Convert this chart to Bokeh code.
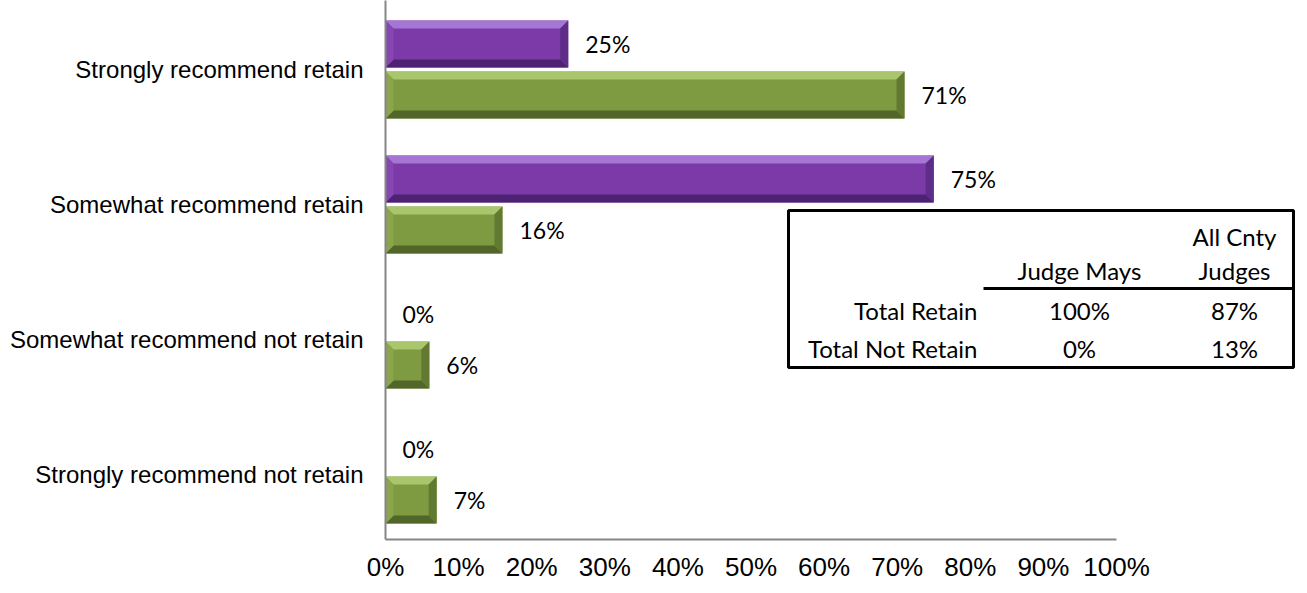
from bokeh.plotting import figure
from bokeh.models import FixedTicker, Range1d, ColumnDataSource
from bokeh.core.properties import value
from bokeh.embed import file_html
from bokeh.resources import INLINE

# ---------------- data ----------------
categories = ["Strongly recommend retain", "Somewhat recommend retain",
              "Somewhat recommend not retain", "Strongly recommend not retain"]
judge_mays = [25, 75, 0, 0]
all_cnty = [71, 16, 6, 7]
x_ticks = [0, 10, 20, 30, 40, 50, 60, 70, 80, 90, 100]
x_tick_labels = ["0%", "10%", "20%", "30%", "40%", "50%", "60%", "70%", "80%", "90%", "100%"]
table_rows = ["Total Retain", "Total Not Retain"]
table_header_top = ["", "All Cnty"]
table_header_bottom = ["Judge Mays", "Judges"]
table_mays = ["100%", "0%"]
table_all = ["87%", "13%"]

# ---------------- layout ----------------
W, H = 1307, 593
ML, MR, MT, MB = 385, 4, 0, 54
PX_PER_PCT = 7.31
PX_PER_CAT = 135.0
x_end = (W - ML - MR) / PX_PER_PCT
y_top = 3 + 69 / PX_PER_CAT
y_bot = y_top - (H - MT - MB) / PX_PER_CAT


def sx(px):
    return (px - ML) / PX_PER_PCT


def sy(py):
    return y_top - (py - MT) / PX_PER_CAT


p = figure(width=W, height=H, output_backend="svg", toolbar_location=None,
           x_range=Range1d(0, x_end), y_range=Range1d(y_bot, y_top),
           min_border_left=ML, min_border_right=MR, min_border_top=MT,
           min_border_bottom=MB)
p.outline_line_color = None
p.grid.visible = False
p.background_fill_color = "white"

n = len(categories)
ypos = [n - 1 - i for i in range(n)]
off = 0.189
half = 0.174
bx = 8 / PX_PER_PCT
by = 8 / PX_PER_CAT

series = [
    (judge_mays, off, "#7B3AA8", "#A676D4", "#4E2272", "#5E2D88", "#8746B4"),
    (all_cnty, -off, "#7F9B42", "#A9C66C", "#52662A", "#627932", "#8AA64D"),
]

for vals, o, main, light, dark, rdark, left in series:
    yc = [y + o for y in ypos]
    nz = [(v, y) for v, y in zip(vals, yc) if v > 0]
    src = ColumnDataSource(dict(y=[y for v, y in nz], right=[v for v, y in nz]))
    p.hbar(y="y", left=0, right="right", height=2 * half, source=src,
           fill_color=main, line_color=None)
    tops, bots, rights, lefts = ([], []), ([], []), ([], []), ([], [])
    for v, y in nz:
        x0, x1, yt, yb = 0, v, y + half, y - half
        tops[0].append([x0, x1, x1 - bx, x0 + bx]); tops[1].append([yt, yt, yt - by, yt - by])
        bots[0].append([x0, x1, x1 - bx, x0 + bx]); bots[1].append([yb, yb, yb + by, yb + by])
        rights[0].append([x1, x1, x1 - bx, x1 - bx]); rights[1].append([yt, yb, yb + by, yt - by])
        lefts[0].append([x0, x0, x0 + bx, x0 + bx]); lefts[1].append([yt, yb, yb + by, yt - by])
    p.patches(xs=tops[0], ys=tops[1], fill_color=light, line_color=None)
    p.patches(xs=bots[0], ys=bots[1], fill_color=dark, line_color=None)
    p.patches(xs=rights[0], ys=rights[1], fill_color=rdark, line_color=None)
    p.patches(xs=lefts[0], ys=lefts[1], fill_color=left, line_color=None)
    lsrc = ColumnDataSource(dict(x=vals, y=yc, t=[f"{v}%" for v in vals]))
    p.text(x="x", y="y", text="t", source=lsrc, x_offset=17,
           text_align="left", text_baseline="middle", text_color="black",
           text_font=value("Lato"), text_font_size="23px")

# axes
p.xaxis.ticker = FixedTicker(ticks=x_ticks)
p.xaxis.major_label_overrides = {t: l for t, l in zip(x_ticks, x_tick_labels)}
p.xaxis.bounds = (0, 100)
p.yaxis.ticker = FixedTicker(ticks=ypos)
p.yaxis.major_label_overrides = {y: c for y, c in zip(ypos, categories)}
for ax in (p.xaxis, p.yaxis):
    ax.axis_line_color = "#868686"
    ax.axis_line_width = 2
    ax.major_tick_line_color = None
    ax.minor_tick_line_color = None
    ax.major_tick_out = 0
    ax.major_tick_in = 0
    ax.major_label_text_color = "black"
    ax.major_label_text_font = "Liberation Sans"
p.xaxis.major_label_text_font_size = "26px"
p.xaxis.major_label_standoff = 12
p.yaxis.major_label_text_font_size = "24px"
p.yaxis.major_label_standoff = 22

# inset table
p.quad(left=[sx(788)], right=[sx(1293)], top=[sy(210)], bottom=[sy(367)],
       fill_color="white", line_color="black", line_width=3)
p.segment(x0=[sx(983)], x1=[sx(1293)], y0=[sy(288)], y1=[sy(288)],
          line_color="black", line_width=3)

col_x = [sx(1079), sx(1234)]
row_y = [sy(310), sy(348)]
tfont = value("Lato")
common = dict(text_baseline="middle", text_font=tfont, text_font_size="24px", text_color="black")
p.text(x=col_x, y=[sy(236)] * 2, text=table_header_top, text_align="center", **common)
p.text(x=col_x, y=[sy(270)] * 2, text=table_header_bottom, text_align="center", **common)
p.text(x=[sx(977)] * 2, y=row_y, text=table_rows, text_align="right", **common)
p.text(x=[col_x[0]] * 2, y=row_y, text=table_mays, text_align="center", **common)
p.text(x=[col_x[1]] * 2, y=row_y, text=table_all, text_align="center", **common)

open("out.html", "w").write(file_html(p, INLINE))
